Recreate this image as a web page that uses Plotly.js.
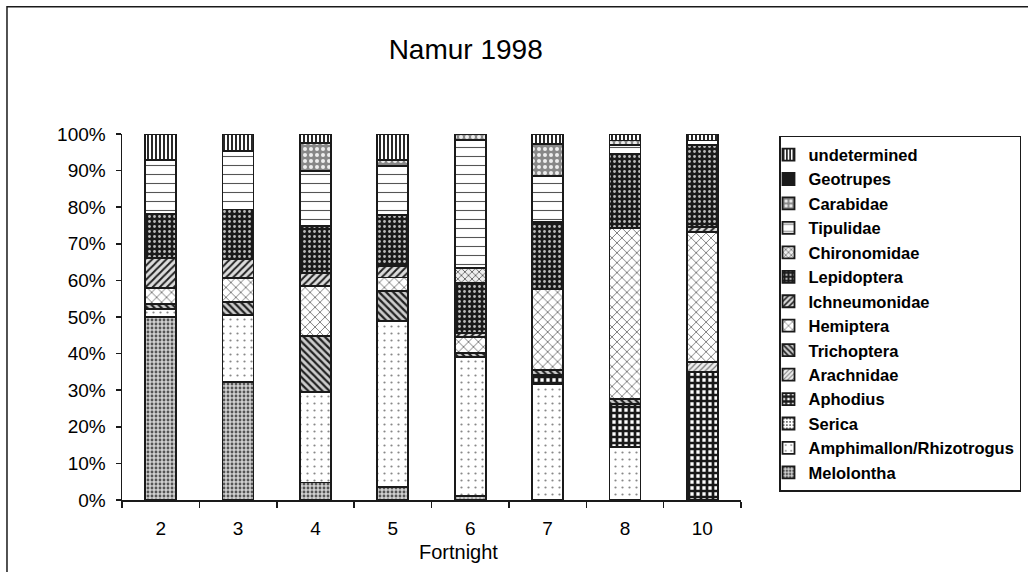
<!DOCTYPE html>
<html>
<head>
<meta charset="utf-8">
<script src="https://cdn.plot.ly/plotly-3.0.1.min.js"></script>
<style>
  html, body { margin: 0; padding: 0; background: #fff; }
  #chart { width: 1028px; height: 572px; }
</style>
</head>
<body>
<div id="chart"></div>
<script>
// ---- Data (percent of catch per fortnight) ----
const fortnights = ['2', '3', '4', '5', '6', '7', '8', '10'];

const melolontha    = [50.0, 32.3,  4.8,  3.5,  1.2,  0.0,  0.0,  0.0];
const amphimallon   = [ 2.2, 18.3, 24.7, 45.3, 37.8, 31.7, 14.5,  0.0];
const serica        = [ 0.0,  0.0,  0.0,  0.0,  0.0,  0.0,  0.0,  0.0];
const aphodius      = [ 0.0,  0.0,  0.0,  0.0,  0.0,  2.4, 11.8, 34.9];
const arachnidae    = [ 0.0,  0.0,  0.0,  0.0,  0.0,  0.0,  0.0,  2.9];
const trichoptera   = [ 1.4,  3.5, 15.3,  8.4,  1.1,  1.4,  1.4,  0.0];
const hemiptera     = [ 4.3,  6.6, 13.6,  3.6,  4.5, 22.2, 46.7, 35.4];
const ichneumonidae = [ 8.2,  5.2,  3.6,  3.1,  1.0,  0.0,  0.0,  1.5];
const lepidoptera   = [12.2, 13.5, 12.8, 13.9, 13.7, 18.3, 20.1, 22.3];
const chironomidae  = [ 0.0,  0.0,  0.0,  0.0,  4.1,  0.0,  0.0,  0.0];
const tipulidae     = [14.6, 16.0, 15.1, 13.5, 35.0, 12.6,  2.5,  1.2];
const carabidae     = [ 0.0,  0.0,  7.6,  1.6,  1.6,  8.7,  1.2,  0.0];
const geotrupes     = [ 0.0,  0.0,  0.0,  0.0,  0.0,  0.0,  0.0,  0.0];
const undetermined  = [ 7.1,  4.6,  2.5,  7.1,  0.0,  2.7,  1.8,  1.8];

// stacking order, bottom to top
const seriesNames = ['Melolontha', 'Amphimallon/Rhizotrogus', 'Serica', 'Aphodius',
  'Arachnidae', 'Trichoptera', 'Hemiptera', 'Ichneumonidae', 'Lepidoptera',
  'Chironomidae', 'Tipulidae', 'Carabidae', 'Geotrupes', 'undetermined'];
const seriesValues = [melolontha, amphimallon, serica, aphodius, arachnidae, trichoptera,
  hemiptera, ichneumonidae, lepidoptera, chironomidae, tipulidae, carabidae, geotrupes, undetermined];

// ---- Styles (fill patterns) ----
const patternStyles = [
  {shape: '.',  fgcolor: '#555', bgcolor: '#d0d0d0', size: 4, solidity: 0.4},
  {shape: '.',  fgcolor: '#888', bgcolor: '#ffffff', size: 7, solidity: 0.08},
  {shape: '.',  fgcolor: '#444', bgcolor: '#ffffff', size: 4, solidity: 0.2},
  {shape: '+',  fgcolor: '#1a1a1a', bgcolor: '#ffffff', size: 6, solidity: 0.7},
  {shape: '/',  fgcolor: '#777', bgcolor: '#eeeeee', size: 4, solidity: 0.3},
  {shape: '\\', fgcolor: '#222', bgcolor: '#cccccc', size: 5, solidity: 0.45},
  {shape: 'x',  fgcolor: '#555', bgcolor: '#ffffff', size: 7, solidity: 0.2},
  {shape: '/',  fgcolor: '#222', bgcolor: '#dddddd', size: 5, solidity: 0.4},
  {shape: '.',  fgcolor: '#bbb', bgcolor: '#1a1a1a', size: 5, solidity: 0.25},
  {shape: 'x',  fgcolor: '#555', bgcolor: '#eeeeee', size: 5, solidity: 0.3},
  {shape: '-',  fgcolor: '#555', bgcolor: '#ffffff', size: 9, solidity: 0.12},
  {shape: '.',  fgcolor: '#eee', bgcolor: '#888888', size: 6, solidity: 0.35},
  {shape: '',   fgcolor: '#1a1a1a', bgcolor: '#1a1a1a', size: 6, solidity: 0.3},
  {shape: '|',  fgcolor: '#111', bgcolor: '#ffffff', size: 4, solidity: 0.45}
];

const traces = seriesNames.map((name, i) => ({
  type: 'bar',
  name: name,
  x: fortnights,
  y: seriesValues[i],
  marker: {
    color: name === 'Geotrupes' ? '#1a1a1a' : '#ffffff',
    line: {color: '#1a1a1a', width: 1.8},
    pattern: Object.assign({fillmode: 'replace'}, patternStyles[i])
  },
  hoverinfo: 'name+y'
}));

const FONT = 'Liberation Sans, Arial, sans-serif';

const layout = {
  width: 1028,
  height: 572,
  margin: {l: 122, r: 287, t: 134, b: 72, pad: 0, autoexpand: false},
  paper_bgcolor: '#ffffff',
  plot_bgcolor: '#ffffff',
  font: {family: FONT, color: '#000', size: 19},
  title: {
    text: 'Namur 1998',
    font: {family: FONT, size: 28, color: '#000'},
    x: 0.453, xref: 'container', xanchor: 'center',
    y: 0.914, yref: 'container', yanchor: 'middle'
  },
  barmode: 'stack',
  barnorm: 'percent',
  bargap: 0.6,
  xaxis: {
    type: 'category',
    showline: true, linecolor: '#1a1a1a', linewidth: 1.5,
    ticks: 'outside', tickson: 'boundaries', ticklen: 6, tickcolor: '#1a1a1a', tickwidth: 1.5,
    tickfont: {family: FONT, size: 19, color: '#000'},
    ticklabelstandoff: 11,
    showgrid: false, zeroline: false
  },
  yaxis: {
    range: [0, 100],
    tick0: 0, dtick: 10,
    ticksuffix: '%',
    showline: true, linecolor: '#1a1a1a', linewidth: 1.5,
    ticks: 'outside', ticklen: 5, tickcolor: '#1a1a1a', tickwidth: 1.5,
    tickfont: {family: FONT, size: 19, color: '#000'},
    ticklabelstandoff: 6,
    showgrid: false, zeroline: false
  },
  annotations: [{
    text: 'Fortnight', showarrow: false,
    xref: 'paper', yref: 'paper',
    x: 0.543, xanchor: 'center',
    y: -0.142, yanchor: 'middle',
    font: {family: FONT, size: 20, color: '#000'}
  }],
  legend: {
    x: 1.0614, xanchor: 'left',
    y: 0.995, yanchor: 'top',
    traceorder: 'reversed',
    bordercolor: '#1a1a1a', borderwidth: 1.5,
    bgcolor: '#ffffff',
    font: {family: FONT, size: 16.5, color: '#000', weight: 'bold'},
    indentation: -12
  },
  shapes: [{
    type: 'rect', xref: 'paper', yref: 'paper',
    x0: -0.1858, x1: 1.6, y0: -0.5, y1: 1.348,
    line: {color: '#1a1a1a', width: 1.5},
    fillcolor: 'rgba(0,0,0,0)', layer: 'below'
  }]
};

Plotly.newPlot('chart', traces, layout, {displayModeBar: false, staticPlot: true});
</script>
</body>
</html>
